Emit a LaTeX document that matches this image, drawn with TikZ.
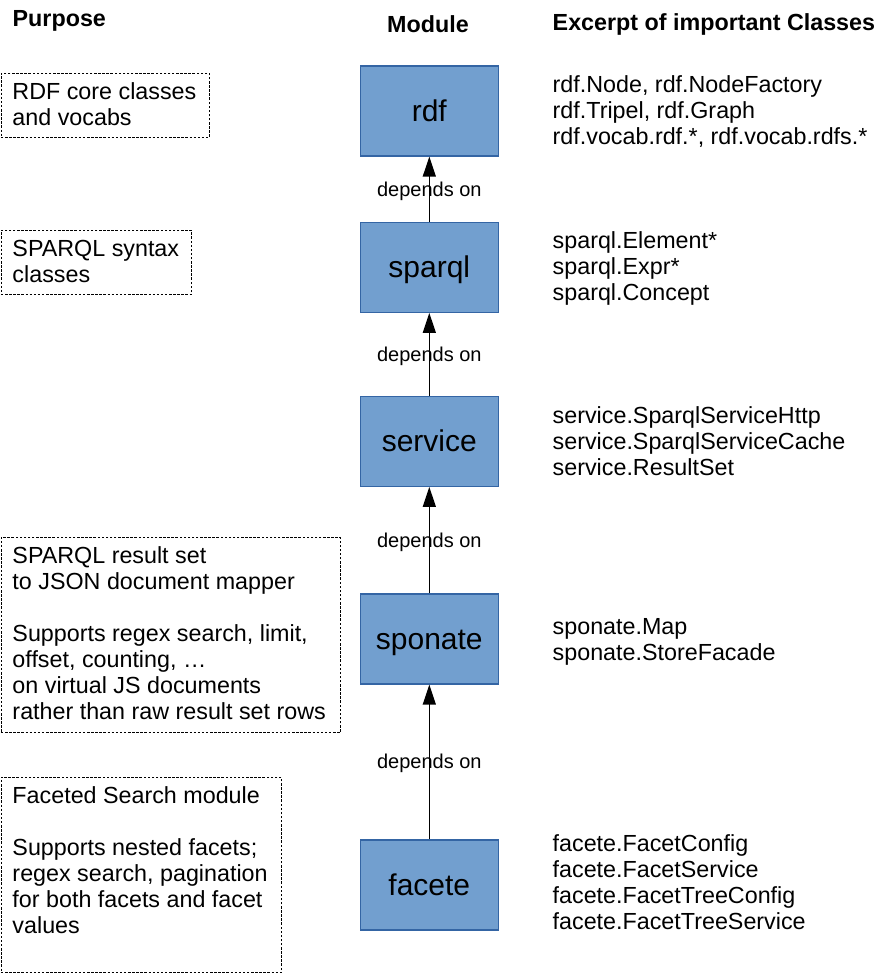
\documentclass[tikz,border=0pt]{standalone}
\usepackage{fontspec}
\setmainfont{Liberation Sans}
\usetikzlibrary{arrows.meta,calc}
\definecolor{modfill}{HTML}{729FCF}
\definecolor{moddraw}{HTML}{3465A4}
\newcommand\myfirstline{\rule{0pt}{21.09pt}}
\tikzset{
  module/.style={draw=moddraw, fill=modfill, line width=1.2pt,
    minimum width=138pt, minimum height=90pt, inner sep=0pt,
    font=\fontsize{30}{33.5}\selectfont, text height=27.15pt, text depth=6.36pt},
  dep/.style={draw, line width=1.3pt, -{Triangle[length=20pt,width=13pt]}},
  deplabel/.style={midway, inner sep=0pt, font=\fontsize{20}{22}\selectfont,
    text height=18.1pt, text depth=4.24pt},
  purpose/.style={draw, line width=0.9pt, dash pattern=on 2.5pt off 1.6pt,
    anchor=north west, inner sep=0pt},
  txt/.style={anchor=north west, inner sep=0pt, align=left,
    font=\fontsize{23.3}{26}\selectfont},
  head/.style={inner sep=0pt, font=\fontsize{23.3}{26}\selectfont\bfseries},
}
\begin{document}
\begin{tikzpicture}[x=1pt,y=-1pt]
\useasboundingbox (0,0) rectangle (888,973);
% headings
\node[head, anchor=base west] (hpurpose) at (12.5,27) {Purpose};
\node[head, anchor=base] (hmodule) at (428,33) {Module};
\node[head, anchor=base west] (hexcerpt) at (552.5,31) {Excerpt of important Classes};
% modules
\node[module] (rdf) at (429.3,111) {rdf};
\node[module] (sparql) at (429.3,267.3) {sparql};
\node[module] (service) at (429.3,441.3) {service};
\node[module] (sponate) at (429.3,639) {sponate};
\node[module] (facete) at (429.3,885) {facete};
% dependencies
\draw[dep] (sparql) -- (rdf) node[deplabel] (d1) {depends on};
\draw[dep] (service) -- (sparql) node[deplabel] (d2) {depends on};
\draw[dep] (sponate) -- (service) node[deplabel] (d3) {depends on};
\draw[dep] (facete) -- (sponate) node[deplabel] (d4) {depends on};
% purpose boxes
\node[purpose, minimum width=208.5pt, minimum height=64pt] (p1) at (0.5,73) {};
\node[purpose, minimum width=190.5pt, minimum height=64pt] (p2) at (0.5,230) {};
\node[purpose, minimum width=339.5pt, minimum height=195pt] (p3) at (0.5,537) {};
\node[purpose, minimum width=280.5pt, minimum height=195pt] (p4) at (0.5,777) {};
\node[txt] (t1) at (12.3,78.4) {\myfirstline RDF core classes\\and vocabs};
\node[txt] (t2) at (12.3,235.6) {\myfirstline SPARQL syntax\\classes};
\node[txt] (t3) at (12.3,542.2) {\myfirstline SPARQL result set\\to JSON document mapper\\[26pt]Supports regex search, limit,\\offset, counting, \dots\\on virtual JS documents\\rather than raw result set rows};
\node[txt] (t4) at (12.3,782.2) {\myfirstline Faceted Search module\\[26pt]Supports nested facets;\\regex search, pagination\\for both facets and facet\\values};
% classes
\node[txt] (c1) at (552.5,71.6) {\myfirstline rdf.Node, rdf.NodeFactory\\rdf.Tripel, rdf.Graph\\rdf.vocab.rdf.*, rdf.vocab.rdfs.*};
\node[txt] (c2) at (552.5,227.2) {\myfirstline sparql.Element*\\sparql.Expr*\\sparql.Concept};
\node[txt] (c3) at (552.5,401.9) {\myfirstline service.SparqlServiceHttp\\service.SparqlServiceCache\\service.ResultSet};
\node[txt] (c4) at (552.5,613.2) {\myfirstline sponate.Map\\sponate.StoreFacade};
\node[txt] (c5) at (552.5,830.6) {\myfirstline facete.FacetConfig\\facete.FacetService\\facete.FacetTreeConfig\\facete.FacetTreeService};
\end{tikzpicture}
\end{document}
